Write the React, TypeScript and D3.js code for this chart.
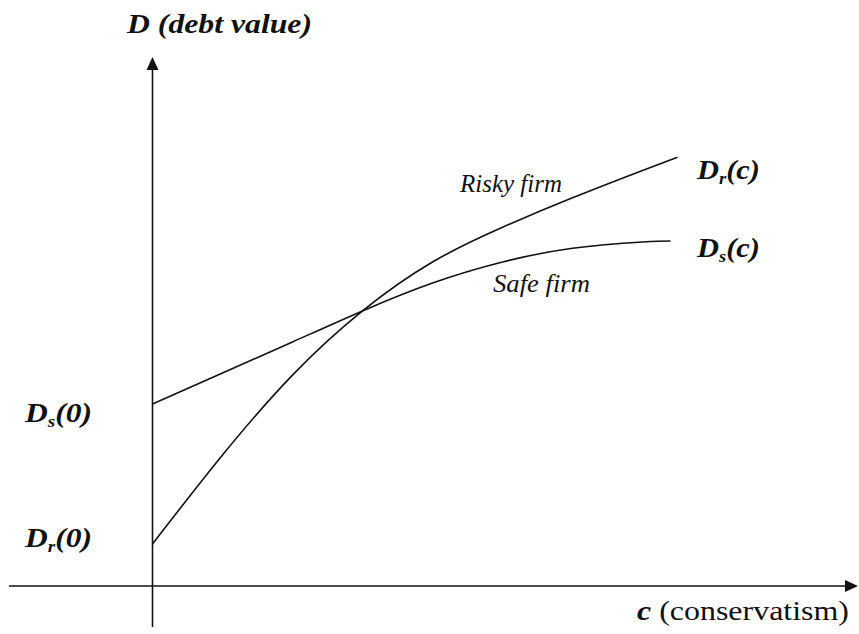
import React, { useEffect, useRef } from 'react';
import * as d3 from 'd3';

// conservatism grid (c) and debt values
const riskyC = [0, 0.1, 0.2, 0.3, 0.4, 0.5, 0.6, 0.7, 0.75];
const riskyD = [0.8, 2.49, 4.01, 5.23, 6.16, 6.82, 7.38, 7.9, 8.15];
const safeC = [0, 0.1, 0.2, 0.3, 0.4, 0.5, 0.6, 0.7, 0.74];
const safeD = [3.46, 4.05, 4.64, 5.23, 5.76, 6.16, 6.42, 6.54, 6.56];

const App: React.FC = () => {
  const ref = useRef<SVGSVGElement | null>(null);

  useEffect(() => {
    if (!ref.current) return;
    const width = 859;
    const height = 634;
    const ink = '#111';
    const serif = "'Liberation Serif', 'Times New Roman', Times, serif";

    const x = d3.scaleLinear().domain([0, 1]).range([152.5, 852.5]);
    const y = d3.scaleLinear().domain([0, 10]).range([586, 60]);

    const svg = d3.select(ref.current)
      .attr('width', width)
      .attr('height', height)
      .style('background', '#fff');

    // axes
    svg.append('line')
      .attr('x1', 9).attr('x2', 848)
      .attr('y1', y(0)).attr('y2', y(0))
      .attr('stroke', ink).attr('stroke-width', 1.6);
    svg.append('path')
      .attr('d', `M858,${y(0)} L845,${y(0) - 6} L845,${y(0) + 6} Z`)
      .attr('fill', ink);

    svg.append('line')
      .attr('x1', x(0)).attr('x2', x(0))
      .attr('y1', 627).attr('y2', 68)
      .attr('stroke', ink).attr('stroke-width', 1.6);
    svg.append('path')
      .attr('d', `M${x(0)},57 L${x(0) - 6},70 L${x(0) + 6},70 Z`)
      .attr('fill', ink);

    const line = d3.line<[number, number]>()
      .x(d => x(d[0]))
      .y(d => y(d[1]))
      .curve(d3.curveNatural);

    const risky = riskyC.map((c, i) => [c, riskyD[i]] as [number, number]);
    const safe = safeC.map((c, i) => [c, safeD[i]] as [number, number]);

    [risky, safe].forEach(s => {
      svg.append('path')
        .attr('d', line(s))
        .attr('fill', 'none')
        .attr('stroke', ink)
        .attr('stroke-width', 1.6);
    });

    // labels
    const txt = (tx: number, ty: number, size: number, weight: string, style: string) =>
      svg.append('text')
        .attr('x', tx).attr('y', ty)
        .style('font-family', serif)
        .attr('font-size', size)
        .attr('font-weight', weight)
        .attr('font-style', style)
        .attr('fill', ink);

    txt(127, 33, 27, 'bold', 'italic')
      .attr('textLength', 185)
      .attr('lengthAdjust', 'spacingAndGlyphs')
      .text('D (debt value)');

    txt(460, 192, 25, 'normal', 'italic')
      .attr('textLength', 102)
      .attr('lengthAdjust', 'spacingAndGlyphs')
      .text('Risky firm');

    txt(493, 292, 25, 'normal', 'italic')
      .attr('textLength', 97)
      .attr('lengthAdjust', 'spacingAndGlyphs')
      .text('Safe firm');

    const subLabel = (tx: number, ty: number, sub: string, arg: string, len: number) => {
      const t = txt(tx, ty, 28, 'bold', 'italic')
        .attr('textLength', len)
        .attr('lengthAdjust', 'spacingAndGlyphs');
      t.append('tspan').text('D');
      t.append('tspan').attr('font-size', 17).attr('dy', 5).text(sub);
      t.append('tspan').attr('dy', -5).text(`(${arg})`);
    };
    subLabel(697, 179, 'r', 'c', 63);
    subLabel(697, 257, 's', 'c', 63);
    subLabel(25, 422, 's', '0', 67);
    subLabel(25, 547, 'r', '0', 67);

    const cl = txt(637, 620, 28, 'normal', 'normal')
      .attr('textLength', 212)
      .attr('lengthAdjust', 'spacingAndGlyphs');
    cl.append('tspan').attr('font-weight', 'bold').attr('font-style', 'italic').text('c');
    cl.append('tspan').text(' (conservatism)');

    return () => {
      d3.select(ref.current).selectAll('*').remove();
    };
  }, []);

  return (
    <div style={{ position: 'absolute', left: 0, top: 0 }}>
      <svg ref={ref} style={{ display: 'block' }}></svg>
    </div>
  );
};

export default App;
